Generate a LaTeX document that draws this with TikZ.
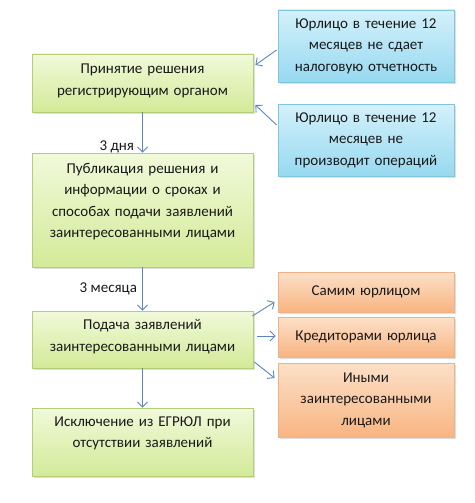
\documentclass[tikz,border=0pt]{standalone}
\usepackage{fontspec}
\setmainfont{Carlito}
\usepackage{xcolor}
\usetikzlibrary{arrows.meta, positioning, shadows}
\definecolor{greenTop}{HTML}{F1F9DA}
\definecolor{greenBot}{HTML}{D3EA98}
\definecolor{greenLine}{HTML}{B3CE78}
\definecolor{blueTop}{HTML}{D3F1FB}
\definecolor{blueBot}{HTML}{97D9F0}
\definecolor{blueLine}{HTML}{7FC6DE}
\definecolor{orangeTop}{HTML}{FCE0C8}
\definecolor{orangeBot}{HTML}{F8B582}
\definecolor{orangeLine}{HTML}{EFB287}
\definecolor{arrowBlue}{HTML}{5B86BF}
\tikzset{
    box/.style = {rectangle, align=center, inner sep=2pt, text=black!90,
        font=\fontsize{15}{21.5}\selectfont, line width=0.8pt,
        drop shadow={shadow xshift=1.5pt, shadow yshift=-1.5pt, opacity=0.25}},
    stage/.style = {box, draw=greenLine, top color=greenTop, bottom color=greenBot,
        minimum width=221pt, text width=215pt},
    cause/.style = {box, draw=blueLine, top color=blueTop, bottom color=blueBot,
        minimum width=176pt, text width=170pt, minimum height=72pt},
    party/.style = {box, draw=orangeLine, top color=orangeTop, bottom color=orangeBot,
        minimum width=176pt, text width=170pt},
    arrow/.style = {line width=0.9pt, draw=arrowBlue, -{Straight Barb[length=5pt, width=10pt]}},
    term/.style = {font=\fontsize{15}{17}\selectfont, text=black!90, inner sep=2pt}
}

\begin{document}
\begin{tikzpicture}[x=1pt, y=-1pt]
        \useasboundingbox (0,0) rectangle (474,503);

        % Main sequence of stages
        \node[stage, minimum height=58pt, text depth=28pt] (decision) at (142.5,83) {Принятие решения\\регистрирующим органом};
        \node[stage, minimum height=114pt, text depth=84pt] (publish) at (142.5,210) {Публикация решения и\\информации о сроках и\\способах подачи заявлений\\заинтересованными лицами};
        \node[stage, minimum height=57pt, text depth=30pt] (claims) at (142.5,339.5) {Подача заявлений\\заинтересованными лицами};
        \node[stage, minimum height=68pt, text depth=41pt] (exclude) at (142.5,442) {Исключение из ЕГРЮЛ при\\отсутствии заявлений};

        % Reasons for the decision
        \node[cause] (noreport) at (366,46) {Юрлицо в течение 12\\месяцев не сдает\\налоговую отчетность};
        \node[cause] (noops) at (366,140) {Юрлицо в течение 12\\месяцев не\\производит операций};

        % Who may file claims
        \node[party, minimum height=40pt] (self) at (366,292) {Самим юрлицом};
        \node[party, minimum height=40pt] (creditors) at (366,337) {Кредиторами юрлица};
        \node[party, minimum height=74pt] (others) at (366,400) {Иными\\заинтересованными\\лицами};

        % Connectors
        \draw[arrow] (decision) -- (publish) node[term, pos=0.85, left=6pt] {3 дня};
        \draw[arrow] (publish) -- (claims) node[term, pos=0.5, left=3pt] {3 месяца};
        \draw[arrow] (claims) -- (exclude);

        \draw[arrow] ([xshift=-1pt, yshift=-4pt]noreport.west) -- ([xshift=2pt, yshift=18pt]decision.east);
        \draw[arrow] ([xshift=-1pt, yshift=15pt]noops.west) -- ([xshift=2pt, yshift=-22pt]decision.east);

        \draw[arrow] ([xshift=-1pt, yshift=23.5pt]claims.east) -- ([xshift=-3pt, yshift=-10pt]self.west);
        \draw[arrow] ([xshift=4pt, yshift=3.5pt]claims.east) -- ([xshift=-2pt, yshift=1pt]creditors.west);
        \draw[arrow] ([xshift=1pt, yshift=-22.5pt]claims.east) -- ([xshift=-3pt, yshift=22pt]others.west);

    \end{tikzpicture}
\end{document}
